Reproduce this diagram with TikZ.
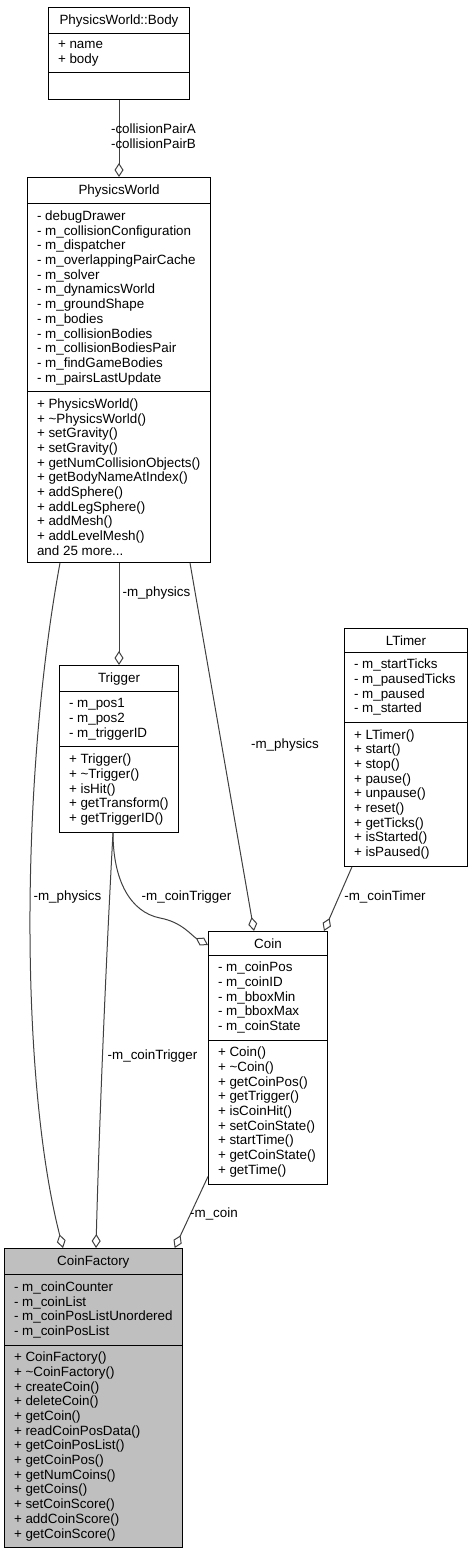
\documentclass[tikz,border=0pt]{standalone}
\usepackage{fontspec}
\setmainfont{Liberation Sans}[Ligatures=CommonOff]
\usetikzlibrary{shapes.multipart,arrows.meta}

\definecolor{edgegray}{HTML}{404040}
\definecolor{factorygray}{HTML}{BFBFBF}

\begin{document}
\begin{tikzpicture}[
	x=1pt, y=-1pt,
	classbox/.style={draw,
		line width=1pt,
		rectangle split,
		rectangle split parts=3,
		rectangle split part align={center,left,left},
		rectangle split empty part height=13pt,
		align=left,
		anchor=north west,
		inner xsep=9.5pt,
		inner ysep=6.4pt,
		font=\fontsize{13.4}{14.7}\selectfont},
	aggr/.style={draw=edgegray, line width=1pt, -{Diamond[open,length=14pt,width=9pt]}},
	lbl/.style={font=\fontsize{13.4}{14.7}\selectfont, inner sep=0pt, align=center}
]
\useasboundingbox (0,0) rectangle (472,1552);

% PhysicsWorld::Body
\node [classbox,
	minimum width=141pt
] (body) at (48,7) {
PhysicsWorld::Body
\nodepart{two}
+ name\\
+ body
};

% PhysicsWorld
\node [classbox,
	minimum width=183pt
] (world) at (27,177) {
PhysicsWorld
\nodepart{two}
- debugDrawer\\
- m\_collisionConfiguration\\
- m\_dispatcher\\
- m\_overlappingPairCache\\
- m\_solver\\
- m\_dynamicsWorld\\
- m\_groundShape\\
- m\_bodies\\
- m\_collisionBodies\\
- m\_collisionBodiesPair\\
- m\_findGameBodies\\
- m\_pairsLastUpdate
\nodepart{three}
+ PhysicsWorld()\\
+ \textasciitilde PhysicsWorld()\\
+ setGravity()\\
+ setGravity()\\
+ getNumCollisionObjects()\\
+ getBodyNameAtIndex()\\
+ addSphere()\\
+ addLegSphere()\\
+ addMesh()\\
+ addLevelMesh()\\
and 25 more...
};

% Trigger
\node [classbox,
	minimum width=119pt
] (trigger) at (59,665) {
Trigger
\nodepart{two}
- m\_pos1\\
- m\_pos2\\
- m\_triggerID
\nodepart{three}
+ Trigger()\\
+ \textasciitilde Trigger()\\
+ isHit()\\
+ getTransform()\\
+ getTriggerID()
};

% LTimer
\node [classbox,
	minimum width=123pt
] (ltimer) at (344,628) {
LTimer
\nodepart{two}
- m\_startTicks\\
- m\_pausedTicks\\
- m\_paused\\
- m\_started
\nodepart{three}
+ LTimer()\\
+ start()\\
+ stop()\\
+ pause()\\
+ unpause()\\
+ reset()\\
+ getTicks()\\
+ isStarted()\\
+ isPaused()
};

% Coin
\node [classbox,
	minimum width=119pt
] (coin) at (208,931) {
Coin
\nodepart{two}
- m\_coinPos\\
- m\_coinID\\
- m\_bboxMin\\
- m\_bboxMax\\
- m\_coinState
\nodepart{three}
+ Coin()\\
+ \textasciitilde Coin()\\
+ getCoinPos()\\
+ getTrigger()\\
+ isCoinHit()\\
+ setCoinState()\\
+ startTime()\\
+ getCoinState()\\
+ getTime()
};

% CoinFactory
\node [classbox,
	fill=factorygray,
	minimum width=177pt
] (factory) at (4,1248) {
CoinFactory
\nodepart{two}
- m\_coinCounter\\
- m\_coinList\\
- m\_coinPosListUnordered\\
- m\_coinPosList
\nodepart{three}
+ CoinFactory()\\
+ \textasciitilde CoinFactory()\\
+ createCoin()\\
+ deleteCoin()\\
+ getCoin()\\
+ readCoinPosData()\\
+ getCoinPosList()\\
+ getCoinPos()\\
+ getNumCoins()\\
+ getCoins()\\
+ setCoinScore()\\
+ addCoinScore()\\
+ getCoinScore()
};

% Aggregations with member labels

\draw[aggr] (body.south) -- (world.north)
	node[lbl] at (153.5,136) {-collisionPairA\\-collisionPairB};
\draw[aggr] (world.south) -- (trigger.north)
	node[lbl] at (156.5,593) {-m\_physics};
\draw[aggr] ([xshift=33pt]world.south west) .. controls (20,780) and (20,1080) .. ([xshift=59pt]factory.north west)
	node[lbl] at (67.5,897) {-m\_physics};
\draw[aggr] ([xshift=-21pt]world.south east) -- ([xshift=46pt]coin.north west)
	node[lbl] at (285,745) {-m\_physics};
\draw[aggr] ([xshift=-6pt]trigger.south) .. controls (106,960) and (99,1130) .. ([xshift=92pt]factory.north west)
	node[lbl] at (152.5,1056) {-m\_coinTrigger};
\draw[aggr] ([xshift=-6pt]trigger.south) .. controls (113,880) and (130,912) .. (160,918) .. controls (182,922) and (192,936) .. ([yshift=-14pt]coin.north west)
	node[lbl] at (186.5,897) {-m\_coinTrigger};
\draw[aggr] ([xshift=8pt]ltimer.south west) -- ([xshift=-4pt]coin.north east)
	node[lbl] at (385,897) {-m\_coinTimer};
\draw[aggr] ([yshift=8pt]coin.south west) -- ([xshift=-8pt]factory.north east)
	node[lbl] at (214,1214) {-m\_coin};

\end{tikzpicture}
\end{document}
